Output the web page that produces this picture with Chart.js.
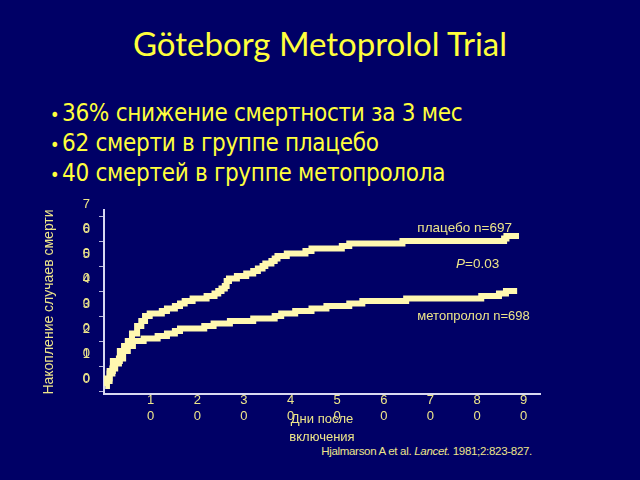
<!DOCTYPE html>
<html>
<head>
<meta charset="utf-8">
<script src="https://cdn.jsdelivr.net/npm/chart.js@4"></script>
<style>
  html, body { margin:0; padding:0; }
  body { width:640px; height:480px; background:#000066; position:relative; overflow:hidden; }
  #wrap { position:absolute; left:0; top:0; width:640px; height:480px; }
  .t { position:absolute; white-space:nowrap; }
  #title { left:0; width:640px; top:23px; text-align:center; font-family:Lato, "Open Sans", sans-serif; font-size:33px; color:#FFFF3C; }
  .b { left:50px; font-family:"Liberation Sans Narrow","DejaVu Sans Condensed",sans-serif; font-size:24px; color:#FFFF3C; line-height:30px; letter-spacing:-0.3px; }
  .b span { display:inline-block; width:12px; font-size:18px; vertical-align:baseline; }
  #cite { right:108px; top:445px; font-family:"Liberation Sans",Arial,sans-serif; font-size:11.5px; color:#EDE58A; letter-spacing:-0.3px; }
</style>
</head>
<body>
<div class="t" id="title">Göteborg Metoprolol Trial</div>
<div class="t b" style="top:98px"><span>•</span>36% снижение смертности за 3 мес</div>
<div class="t b" style="top:128px"><span>•</span>62 смерти в группе плацебо</div>
<div class="t b" style="top:158px"><span>•</span>40 смертей в группе метопролола</div>
<div class="t" id="cite">Hjalmarson A et al. <i>Lancet.</i> 1981;2:823-827.</div>
<div id="wrap"><canvas id="c" width="640" height="480"></canvas></div>
<script>
// ---- data (days after inclusion, cumulative deaths) ----
const placeboDays   = [0.3, 0.6, 1.2, 1.9, 3.4, 4.3, 5.1, 6, 7.1, 8, 8.8, 9.8, 12.4, 13.5, 15.2, 16.3, 17.3, 19, 22, 23.7, 24.5, 25.2, 25.9, 26.3, 26.8, 28.5, 30.5, 32, 33, 34, 34.6, 35.9, 36.6, 37.2, 39.2, 43.2, 44.5, 51, 52.6, 64, 85.8, 86.3, 89];
const placeboDeaths = [2, 5, 8, 12, 16, 18, 20, 23, 26, 28, 30, 31, 32, 33, 34, 35, 36, 37, 38, 39, 40, 41, 42, 44, 45, 46, 47, 48, 49, 50, 51, 52, 53, 54, 55, 56, 57, 58, 59, 60, 61, 62, 62];
const metoDays      = [0.3, 0.6, 1.2, 1.8, 2.4, 3.2, 4.1, 5.1, 6.2, 8.5, 11.5, 13.5, 15.2, 16.3, 21.5, 23.5, 27, 32, 36.6, 38, 41, 44.5, 47.7, 52.6, 55.4, 64.8, 80.9, 84.7, 86.2, 88.6];
const metoDeaths    = [2, 4, 7, 9, 11, 13, 16, 18, 20, 21, 22, 23, 24, 25, 26, 27, 28, 29, 30, 31, 32, 33, 34, 35, 36, 37, 38, 39, 40, 40];
const xTickValues = [10, 20, 30, 40, 50, 60, 70, 80, 90];
const xTickLabels = ['10', '20', '30', '40', '50', '60', '70', '80', '90'];
const yTickValues = [0, 10, 20, 30, 40, 50, 60, 70];
const yTickLabels = ['0', '10', '20', '30', '40', '50', '60', '70'];
const seriesNames = ['плацебо n=697', 'метопролол n=698'];
const pLabel = ['P', '=0.03'];

const lineColor = '#FFF8B0';
const labelColor = '#EDE58A';
const axisColor = '#D8D8F0';

const toPts = (xs, ys) => xs.map((x, i) => ({x: x, y: ys[i]}));

const annot = {
  id: 'annot',
  afterDraw(chart) {
    const {ctx, scales: {x, y}} = chart;
    ctx.save();
    ctx.fillStyle = labelColor;
    ctx.textBaseline = 'middle';
    ctx.textAlign = 'left';
    ctx.font = '13.5px "Liberation Sans", Arial, sans-serif';
    ctx.fillText(seriesNames[0], x.getPixelForValue(67.2), y.getPixelForValue(65.2));
    ctx.font = '13px "Liberation Sans", Arial, sans-serif';
    ctx.fillText(seriesNames[1], x.getPixelForValue(67.2), y.getPixelForValue(30));
    const px = x.getPixelForValue(75.5), py = y.getPixelForValue(50.8);
    ctx.font = 'italic 13.5px "Liberation Sans", Arial, sans-serif';
    ctx.fillText(pLabel[0], px, py);
    const w = ctx.measureText(pLabel[0]).width;
    ctx.font = '13.5px "Liberation Sans", Arial, sans-serif';
    ctx.fillText(pLabel[1], px + w, py);
    ctx.restore();
  }
};

new Chart(document.getElementById('c'), {
  type: 'line',
  data: {
    datasets: [
      { label: seriesNames[0], data: toPts(placeboDays, placeboDeaths), stepped: true,
        borderColor: lineColor, borderWidth: 6, pointRadius: 0, fill: false, borderJoinStyle: 'miter' },
      { label: seriesNames[1], data: toPts(metoDays, metoDeaths), stepped: true,
        borderColor: lineColor, borderWidth: 6, pointRadius: 0, fill: false, borderJoinStyle: 'miter' }
    ]
  },
  options: {
    responsive: false,
    animation: false,
    devicePixelRatio: 1,
    layout: { padding: { left: 36, right: 100, top: 210, bottom: 34 } },
    plugins: { legend: { display: false }, tooltip: { enabled: false } },
    scales: {
      x: {
        type: 'linear', min: 0, max: 93.5,
        afterBuildTicks: s => { s.ticks = xTickValues.map(v => ({value: v})); },
        afterFit: s => { s.height = 52; },
        grid: { display: false, drawTicks: false },
        border: { display: true, color: axisColor, width: 2 },
        ticks: {
          autoSkip: false, maxRotation: 0, padding: -2, color: labelColor,
          font: { family: '"Liberation Sans", Arial, sans-serif', size: 13, lineHeight: '16px' },
          callback: (v) => { const i = xTickValues.indexOf(v); return i < 0 ? '' : xTickLabels[i].split(''); }
        },
        title: {
          display: true, text: ['Дни после', 'включения'], color: labelColor,
          padding: { top: 0, bottom: 0 },
          font: { family: '"Liberation Sans", Arial, sans-serif', size: 13, lineHeight: '18px' }
        }
      },
      y: {
        type: 'linear', min: -1.2, max: 72.4,
        afterBuildTicks: s => { s.ticks = yTickValues.map(v => ({value: v})); },
        afterFit: s => { s.width = 68; },
        grid: { drawOnChartArea: false, drawTicks: true, tickLength: 5, color: '#B8B8D8' },
        border: { display: true, color: axisColor, width: 2 },
        ticks: {
          autoSkip: false, padding: 9, color: labelColor,
          font: { family: '"Liberation Sans", Arial, sans-serif', size: 13, lineHeight: '24px' },
          callback: (v) => { const i = yTickValues.indexOf(v); if (i < 0) return ''; const s = yTickLabels[i].split(''); return s.length === 1 ? [s[0], ''] : s; }
        },
        title: {
          display: true, text: 'Накопление случаев смерти', color: labelColor,
          padding: { top: 5, bottom: 4 },
          font: { family: '"Liberation Sans", Arial, sans-serif', size: 14 }
        }
      }
    }
  },
  plugins: [annot]
});
</script>
</body>
</html>
